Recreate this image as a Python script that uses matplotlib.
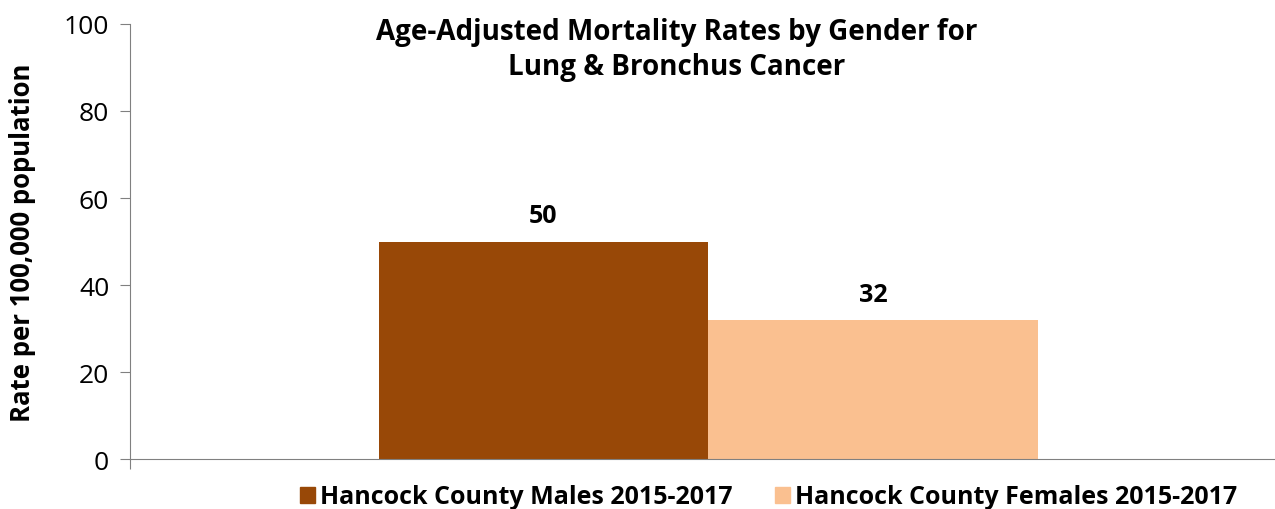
import numpy as np
import matplotlib.pyplot as plt
from matplotlib.patches import Patch

plt.rcParams['font.family'] = ['Open Sans', 'DejaVu Sans']

series = ['Hancock County Males 2015-2017', 'Hancock County Females 2015-2017']
values = [50, 32]
colors = ['#984807', '#FAC090']

fig = plt.figure(figsize=(12.75, 5.1), dpi=100)
ax = fig.add_axes([0.102, 0.098, 0.898, 0.853])

w = 0.288
x0 = 0.005
offsets = [-w / 2, w / 2]
for off, v, c in zip(offsets, values, colors):
    ax.bar(x0 + off, v, width=w, color=c)
    ax.text(x0 + off, v + 3, str(v), ha='center', va='bottom',
            fontsize=18, fontweight='bold')

ax.set_xlim(-0.5, 0.5)
ax.set_ylim(0, 100)
ax.set_yticks(range(0, 101, 20))
ax.tick_params(axis='y', labelsize=19, length=7, color='#808080', pad=8)
ax.set_xticks([-0.5])
ax.set_xticklabels([''])
ax.tick_params(axis='x', length=7, color='#808080')
for s in ['top', 'right']:
    ax.spines[s].set_visible(False)
for s in ['left', 'bottom']:
    ax.spines[s].set_color('#808080')

ax.set_ylabel('Rate per 100,000 population', fontsize=18.5, fontweight='bold', labelpad=20)

fig.text(0.531, 0.965, 'Age-Adjusted Mortality Rates by Gender for\nLung & Bronchus Cancer',
         ha='center', va='top', fontsize=20, fontweight='bold', linespacing=1.3)

handles = [Patch(color=c) for c in colors]
fig.legend(handles, series, loc='lower center', bbox_to_anchor=(0.603, -0.045), ncol=2,
           frameon=False, prop={'size': 18, 'weight': 'bold'},
           handlelength=0.6, handleheight=0.6, handletextpad=0.2, columnspacing=1.7)

fig.savefig('out.png', dpi=100)
